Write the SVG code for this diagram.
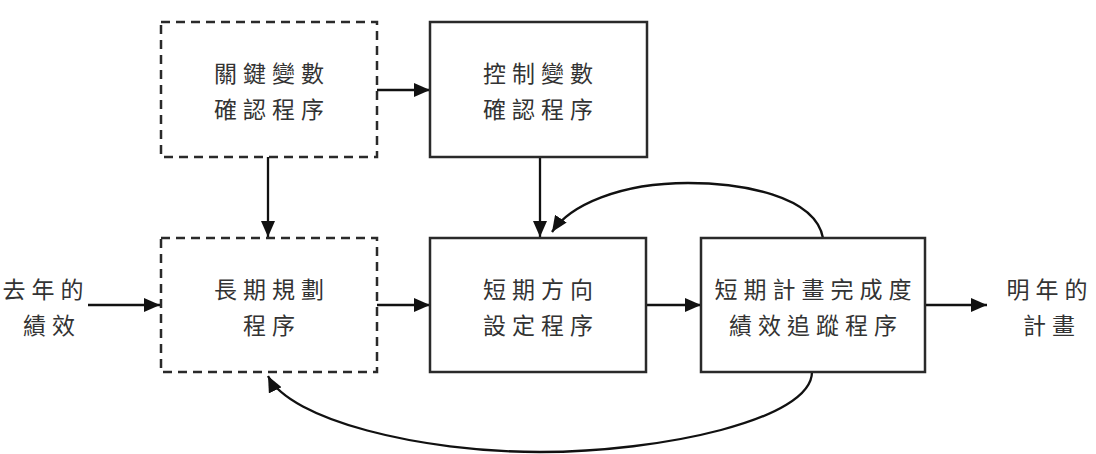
<svg xmlns="http://www.w3.org/2000/svg" width="1096" height="454" viewBox="0 0 1096 454">
<defs>
<marker id="ah" markerWidth="16" markerHeight="14" refX="16" refY="7" orient="auto" markerUnits="userSpaceOnUse">
<path d="M0,0 L16,7 L0,14 Z" fill="#111"/>
</marker>
<style>
.box{fill:#fff;stroke:#2a2a2a;stroke-width:2.5}
.dash{stroke-dasharray:9 6}
.t{font-family:"Noto Sans CJK TC","Noto Sans CJK SC",sans-serif;font-size:23px;fill:#333;text-anchor:middle;letter-spacing:6px}
.c{fill:none;stroke:#111;stroke-width:2.3}
</style>
</defs>
<rect width="1096" height="454" fill="#fff"/>
<g id="connectors">
<path class="c" d="M377,90 L430,90" marker-end="url(#ah)"/>
<path class="c" d="M268,157 L268,237" marker-end="url(#ah)"/>
<path class="c" d="M540,157 L540,237" marker-end="url(#ah)"/>
<path class="c" d="M88,305 L160,305" marker-end="url(#ah)"/>
<path class="c" d="M377,305 L430,305" marker-end="url(#ah)"/>
<path class="c" d="M646,305 L701,305" marker-end="url(#ah)"/>
<path class="c" d="M925,305 L987,305" marker-end="url(#ah)"/>
<path class="c" d="M823,238 C815,195 740,183 688,183 C620,183 570,205 552,232" marker-end="url(#ah)"/>
<path class="c" d="M812,372 C812,420 660,452 540,452 C420,452 290,420 268,376" marker-end="url(#ah)"/>
</g>
<g id="n1"><rect class="box dash" x="161" y="22" width="216" height="135"/>
<text class="t" x="272" y="82">關鍵變數</text><text class="t" x="272" y="118">確認程序</text></g>
<g id="n2"><rect class="box" x="430" y="22" width="217" height="135"/>
<text class="t" x="541" y="82">控制變數</text><text class="t" x="541" y="118">確認程序</text></g>
<g id="n3"><rect class="box dash" x="161" y="238" width="216" height="134"/>
<text class="t" x="272" y="298">長期規劃</text><text class="t" x="272" y="334">程序</text></g>
<g id="n4"><rect class="box" x="430" y="238" width="216" height="134"/>
<text class="t" x="541" y="298">短期方向</text><text class="t" x="541" y="334">設定程序</text></g>
<g id="n5"><rect class="box" x="701" y="238" width="224" height="134"/>
<text class="t" x="816" y="298">短期計畫完成度</text><text class="t" x="816" y="334">績效追蹤程序</text></g>
<g id="in"><text class="t" x="46" y="298">去年的</text><text class="t" x="52" y="334">績效</text></g>
<g id="out"><text class="t" x="1050" y="298">明年的</text><text class="t" x="1052" y="334">計畫</text></g>
</svg>
